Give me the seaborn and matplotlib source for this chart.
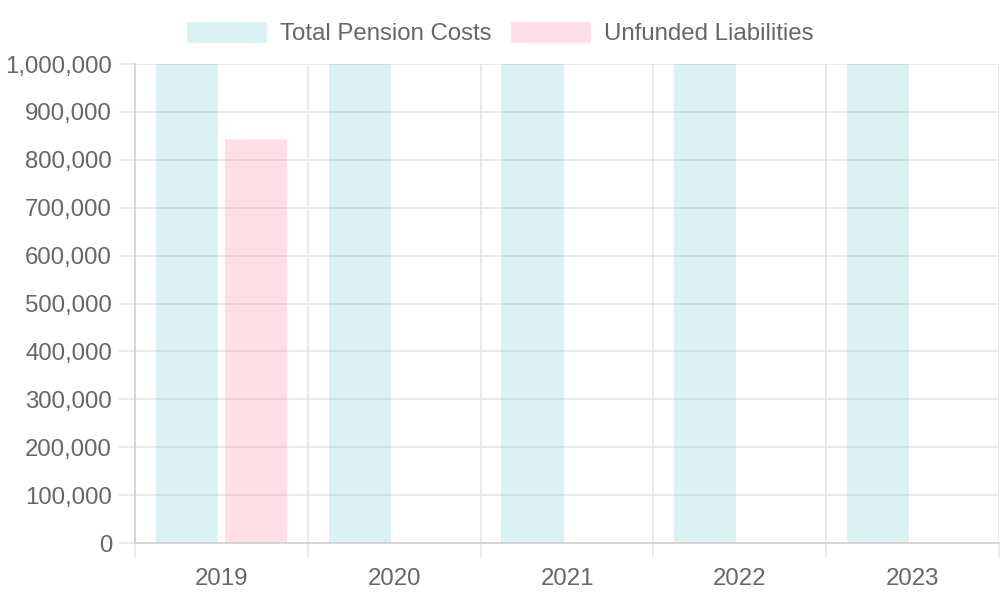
import matplotlib
matplotlib.use("Agg")
import matplotlib.pyplot as plt
import seaborn as sns
import pandas as pd
import numpy as np
from matplotlib.patches import Patch

years = ["2019", "2020", "2021", "2022", "2023"]
total_pension_costs = [1200000, 1200000, 1200000, 1200000, 1200000]
unfunded_liabilities = [843000, 0, 0, 0, 0]
series_names = ["Total Pension Costs", "Unfunded Liabilities"]
y_ticks = [0, 100000, 200000, 300000, 400000, 500000, 600000, 700000, 800000, 900000, 1000000]

df = pd.DataFrame({
    "Year": years * 2,
    "Value": total_pension_costs + unfunded_liabilities,
    "Series": [series_names[0]] * len(years) + [series_names[1]] * len(years),
})

sns.set_theme(style="white")
plt.rcParams["font.family"] = ["Liberation Sans", "DejaVu Sans"]

green = (75 / 255, 192 / 255, 192 / 255)
pink = (255 / 255, 99 / 255, 132 / 255)
alpha = 0.2

fig = plt.figure(figsize=(10, 6), dpi=100)
ax = fig.add_axes([0.135, 0.095, 0.864, 0.7983])

sns.barplot(data=df, x="Year", y="Value", hue="Series", order=years,
            hue_order=series_names, palette=[green, pink], width=0.8,
            gap=0.1, linewidth=0, errorbar=None, saturation=1, ax=ax, legend=False)
for p in ax.patches:
    p.set_alpha(alpha)

ax.set_xlim(-0.5, 4.5)
ax.set_ylim(0, 1000000)
ax.set_axisbelow(True)
ax.set_xlabel("")
ax.set_ylabel("")

grid_c = "#e6e6e6"
ax.set_yticks(y_ticks)
ax.set_yticklabels([f"{v:,}" for v in y_ticks])
ax.yaxis.grid(True, color=grid_c, linewidth=1.2)
ax.set_xticks(range(len(years)))
ax.set_xticks(np.arange(-0.5, len(years), 1.0), minor=True)
ax.xaxis.grid(True, which="minor", color=grid_c, linewidth=1.2)
ax.xaxis.grid(False, which="major")

ax.tick_params(axis="y", length=11.5, width=1.2, color=grid_c, pad=5,
               labelsize=17.3, labelcolor="#666666", left=True)
ax.tick_params(axis="x", which="major", length=0, pad=18,
               labelsize=17.3, labelcolor="#666666")
ax.tick_params(axis="x", which="minor", length=10, width=1.2, color=grid_c,
               bottom=True)

for s in ["top", "right"]:
    ax.spines[s].set_visible(False)
ax.spines["left"].set_color("#d0d0d0")
ax.spines["bottom"].set_color("#d0d0d0")
ax.spines["left"].set_linewidth(1.2)
ax.spines["bottom"].set_linewidth(1.2)

handles = [Patch(facecolor=green, alpha=alpha, edgecolor="none"),
           Patch(facecolor=pink, alpha=alpha, edgecolor="none")]
fig.legend(handles, series_names, loc="center", bbox_to_anchor=(0.5, 0.944), ncol=2,
           frameon=False, fontsize=17.3, labelcolor="#666666", handlelength=3.33,
           handleheight=0.95, handletextpad=0.54, columnspacing=0.83, borderpad=0)

fig.savefig("out.png", dpi=100)
